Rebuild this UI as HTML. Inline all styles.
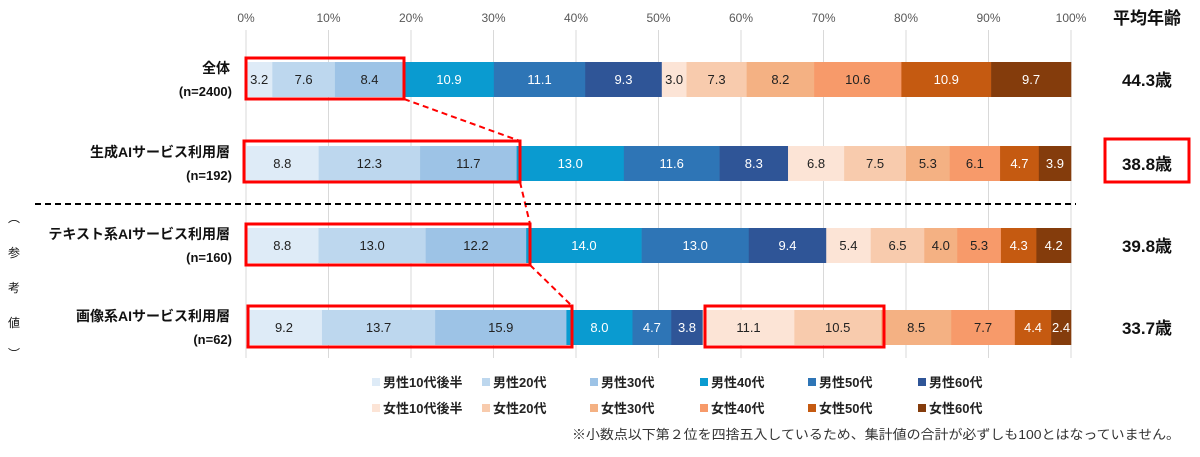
<!DOCTYPE html>
<html><head><meta charset="utf-8">
<style>
body{margin:0;background:#fff;width:1200px;height:452px;overflow:hidden;font-family:"Liberation Sans","Noto Sans CJK JP",sans-serif;}
</style></head><body>
<svg id="s" width="1200" height="452" xmlns="http://www.w3.org/2000/svg" font-family="Liberation Sans, Noto Sans CJK JP, sans-serif"></svg>
<script>
const s=document.getElementById('s');let h='';
const X0=246,W=825;
const cols=['#deebf7','#bdd7ee','#9dc3e6','#0a9bd0','#2e75b6','#2f5597','#fce4d6','#f8cbad','#f4b183','#f79a6a','#c55a11','#843c0c'];
const white=[0,0,0,1,1,1,0,0,0,0,1,1];
for(let i=0;i<=10;i++){const x=X0+W*i/10;h+=`<line x1="${x}" y1="30" x2="${x}" y2="358" stroke="#d9d9d9"/>`;
h+=`<text x="${x}" y="22" font-size="12" fill="#595959" text-anchor="middle">${i*10}%</text>`;}
const rows=[
{y:62,d:[3.2,7.6,8.4,10.9,11.1,9.3,3.0,7.3,8.2,10.6,10.9,9.7],t1:'全体',t2:'(n=2400)',age:'44.3歳'},
{y:146,d:[8.8,12.3,11.7,13.0,11.6,8.3,6.8,7.5,5.3,6.1,4.7,3.9],t1:'生成AIサービス利用層',t2:'(n=192)',age:'38.8歳'},
{y:228,d:[8.8,13.0,12.2,14.0,13.0,9.4,5.4,6.5,4.0,5.3,4.3,4.2],t1:'テキスト系AIサービス利用層',t2:'(n=160)',age:'39.8歳'},
{y:310,d:[9.2,13.7,15.9,8.0,4.7,3.8,11.1,10.5,8.5,7.7,4.4,2.4],t1:'画像系AIサービス利用層',t2:'(n=62)',age:'33.7歳'}];
rows.forEach(r=>{const sum=r.d.reduce((a,b)=>a+b,0);let x=X0;
r.d.forEach((v,i)=>{const w=W*v/sum;h+=`<rect x="${x}" y="${r.y}" width="${w+0.3}" height="35" fill="${cols[i]}"/>`;
h+=`<text x="${x+w/2}" y="${r.y+22}" font-size="13" text-anchor="middle" fill="${white[i]?'#fff':'#222'}">${v.toFixed(1)}</text>`;x+=w;});
h+=`<text x="230" y="${r.y+11}" font-size="14" font-weight="bold" text-anchor="end" fill="#111">${r.t1}</text>`;
h+=`<text x="232" y="${r.y+34}" font-size="13" font-weight="bold" text-anchor="end" fill="#111">${r.t2}</text>`;
h+=`<text x="1147" y="${r.y+24}" font-size="17" font-weight="bold" text-anchor="middle" fill="#111">${r.age}</text>`;});
h+=`<text x="1147" y="24" font-size="17" font-weight="bold" text-anchor="middle" fill="#111">平均年齢</text>`;
const R='#ff0000';
[[246,58,158,41],[244,141,276,41],[246,224,284,41],[248,306,324,41],[705,306,179,41],[1105,139,84,43]].forEach(b=>h+=`<rect x="${b[0]}" y="${b[1]}" width="${b[2]}" height="${b[3]}" fill="none" stroke="${R}" stroke-width="3"/>`);
[[404,99,520,141],[520,182,530,224],[530,265,572,306]].forEach(l=>h+=`<line x1="${l[0]}" y1="${l[1]}" x2="${l[2]}" y2="${l[3]}" stroke="${R}" stroke-width="2" stroke-dasharray="6,4"/>`);
h+=`<line x1="35" y1="204" x2="1076" y2="204" stroke="#000" stroke-width="2" stroke-dasharray="6,4"/>`;
['︵','参','考','値','︶'].forEach((c,i)=>h+=`<text x="14" y="${[222,257,292,327,358][i]}" font-size="12" text-anchor="middle" fill="#111">${c}</text>`);
const lx=[372,482,590,700,808,918],ln=[['男性10代後半','男性20代','男性30代','男性40代','男性50代','男性60代'],['女性10代後半','女性20代','女性30代','女性40代','女性50代','女性60代']];
ln.forEach((row,j)=>row.forEach((t,i)=>{const y=j?413:387;h+=`<rect x="${lx[i]}" y="${y-9}" width="8" height="8" fill="${cols[j*6+i]}"/>`;
h+=`<text x="${lx[i]+11}" y="${y}" font-size="13" font-weight="bold" fill="#222">${t}</text>`;}));
h+=`<text x="572" y="439" font-size="13" textLength="608" lengthAdjust="spacingAndGlyphs" fill="#333">※小数点以下第２位を四捨五入しているため、集計値の合計が必ずしも100とはなっていません。</text>`;
s.innerHTML=h;
</script>
</body></html>
